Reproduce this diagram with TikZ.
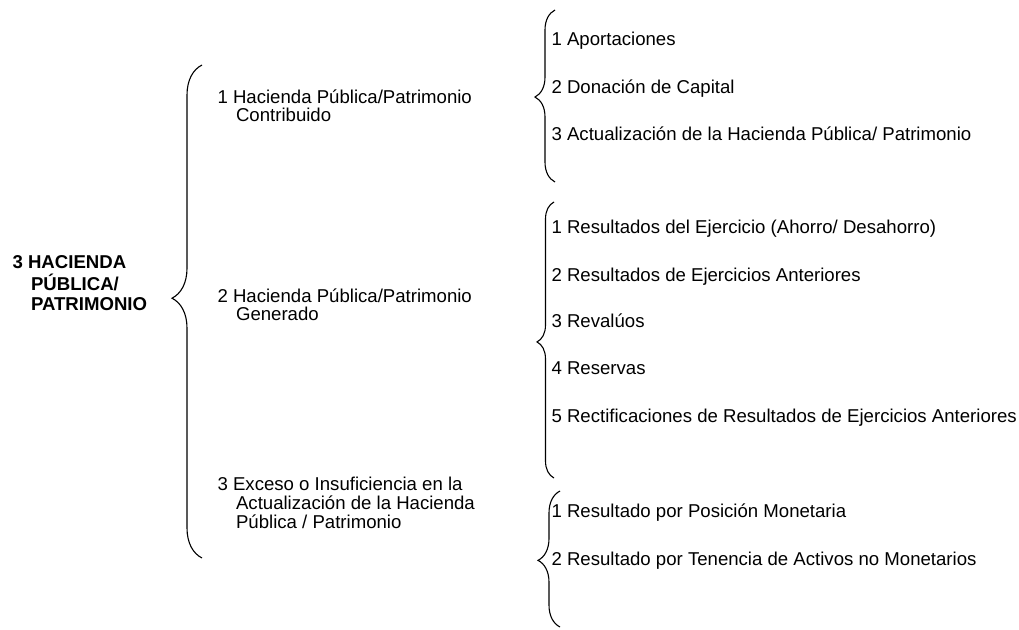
\documentclass[tikz,border=0pt]{standalone}
\usepackage{fontspec}
\setmainfont{Liberation Sans}
\usetikzlibrary{decorations.pathreplacing}

\tikzset{
  txt/.style={anchor=base west, inner sep=0pt, font=\fontsize{18.6}{18}\selectfont},
  hdr/.style={anchor=base west, inner sep=0pt, font=\fontsize{18.6}{20}\selectfont\bfseries},
  curly/.style 2 args={decorate, decoration={brace, amplitude=#1, aspect=#2}},
}
\newcommand{\lines}[1]{\begin{tabular}[t]{@{}l@{}}#1\end{tabular}}
\newcommand{\hangin}{\hspace*{18.5pt}}

\begin{document}
\begin{tikzpicture}[x=1pt, y=-1pt, line width=1.1pt]
  \useasboundingbox (0,0) rectangle (1019,629);

  % cuenta principal
  \node[hdr] (root) at (12,268) {\lines{3 HACIENDA\\ \hangin PÚBLICA/\\ \hangin PATRIMONIO}};
  \draw[curly={30}{0.527}] (202,558) -- (202,65);

  % rubros
  \node[txt] (g1) at (217,103) {\lines{1 Hacienda Pública/Patrimonio\\ \hangin Contribuido}};
  \node[txt] (g2) at (217,302) {\lines{2 Hacienda Pública/Patrimonio\\ \hangin Generado}};
  \node[txt] (g3) at (217,490) {\lines{3 Exceso o Insuficiencia en la\\ \hangin Actualización de la Hacienda\\ \hangin Pública / Patrimonio}};

  % cuentas del rubro 1
  \draw[curly={20}{0.494}] (555,182) -- (555,10);
  \node[txt] (a1) at (551,45)  {1 Aportaciones};
  \node[txt] (a2) at (551,93)  {2 Donación de Capital};
  \node[txt] (a3) at (551,140) {3 Actualización de la Hacienda Pública/ Patrimonio};

  % cuentas del rubro 2
  \draw[curly={17}{0.493}] (554,478) -- (554,202);
  \node[txt] (b1) at (551,233) {1 Resultados del Ejercicio (Ahorro/ Desahorro)};
  \node[txt] (b2) at (551,281) {2 Resultados de Ejercicios Anteriores};
  \node[txt] (b3) at (551,327) {3 Revalúos};
  \node[txt] (b4) at (551,374) {4 Reservas};
  \node[txt] (b5) at (551,422) {5 Rectificaciones de Resultados de Ejercicios Anteriores};

  % cuentas del rubro 3
  \draw[curly={22}{0.49}] (560,627) -- (560,491);
  \node[txt] (c1) at (551,517) {1 Resultado por Posición Monetaria};
  \node[txt] (c2) at (551,565) {2 Resultado por Tenencia de Activos no Monetarios};
\end{tikzpicture}
\end{document}
